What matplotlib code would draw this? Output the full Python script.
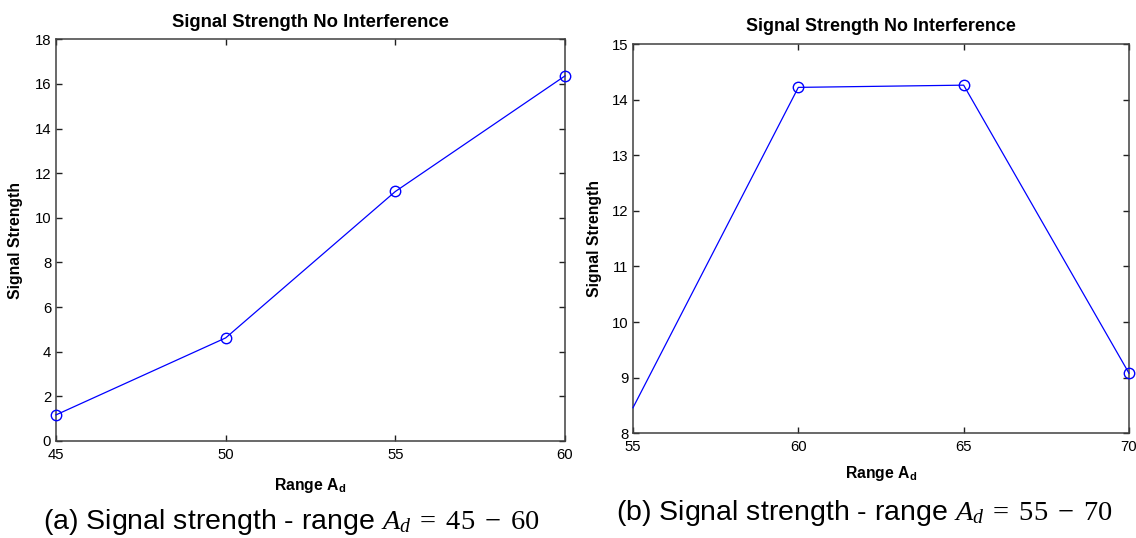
import matplotlib
matplotlib.use("Agg")
import matplotlib.pyplot as plt

plt.rcParams['font.family'] = ['Liberation Sans', 'DejaVu Sans']
plt.rcParams['mathtext.fontset'] = 'custom'
plt.rcParams['mathtext.rm'] = 'Liberation Serif'
plt.rcParams['mathtext.it'] = 'Liberation Serif:italic'
plt.rcParams['mathtext.bf'] = 'Liberation Sans:bold'

# Data
range_a = [45, 50, 55, 60]
signal_a = [1.17, 4.62, 11.18, 16.36]
range_b = [55, 60, 65, 70]
signal_b = [8.46, 14.22, 14.26, 9.08]

xticks_a = [45, 50, 55, 60]
yticks_a = [0, 2, 4, 6, 8, 10, 12, 14, 16, 18]
xticks_b = [55, 60, 65, 70]
yticks_b = [8, 9, 10, 11, 12, 13, 14, 15]

title = "Signal Strength No Interference"
ylabel = "Signal Strength"
xlabel = r"Range $\mathbf{A_d}$"
caption_a = r"(a) Signal strength - range $A_d\;=\;45\;-\;60$"
caption_b = r"(b) Signal strength - range $A_d\;=\;55\;-\;70$"

W, H = 1136, 538
fig = plt.figure(figsize=(W / 100, H / 100), dpi=100)

def px_axes(x0, y0, x1, y1):
    return fig.add_axes([x0 / W, 1 - y1 / H, (x1 - x0) / W, (y1 - y0) / H])

ax1 = px_axes(56, 39.3, 565, 441)
ax2 = px_axes(633, 44, 1129, 433.3)

spine_col = '#404040'

def style(ax):
    for s in ax.spines.values():
        s.set_color(spine_col)
        s.set_linewidth(1.1)
    ax.tick_params(direction='in', top=True, right=True, length=4, width=1,
                   color='#202020', labelsize=10.7)
    ax.tick_params(axis='y', pad=3.5)
    ax.tick_params(axis='x', pad=5)

line_kw = dict(color='#0000ff', lw=0.9, marker='o', ms=7.5, mfc='none',
               mec='#0000ff', mew=1.0, clip_on=False, zorder=3)

ax1.plot(range_a, signal_a, **line_kw)
ax1.set_xlim(45, 60)
ax1.set_ylim(0, 18)
ax1.set_xticks(xticks_a)
ax1.set_yticks(yticks_a)
style(ax1)
ax1.set_title(title, fontsize=13.3, fontweight='bold', pad=9)
ax1.set_ylabel(ylabel, fontsize=11.3, fontweight='bold', labelpad=8)
ax1.set_xlabel(xlabel, fontsize=11.3, fontweight='bold', labelpad=10)

ax2.plot(range_b, signal_b, markevery=[1, 2, 3], **line_kw)
ax2.set_xlim(55, 70)
ax2.set_ylim(8, 15)
ax2.set_xticks(xticks_b)
ax2.set_yticks(yticks_b)
style(ax2)
ax2.set_title(title, fontsize=12.9, fontweight='bold', pad=9.5)
ax2.set_ylabel(ylabel, fontsize=11.3, fontweight='bold', labelpad=7)
ax2.set_xlabel(xlabel, fontsize=11.3, fontweight='bold', labelpad=7)

fig.text(291 / W, 1 - 522 / H, caption_a, fontsize=20.5, ha='center', va='center')
fig.text(864 / W, 1 - 513 / H, caption_b, fontsize=20.5, ha='center', va='center')

fig.savefig("out.png", dpi=100, facecolor='white')
